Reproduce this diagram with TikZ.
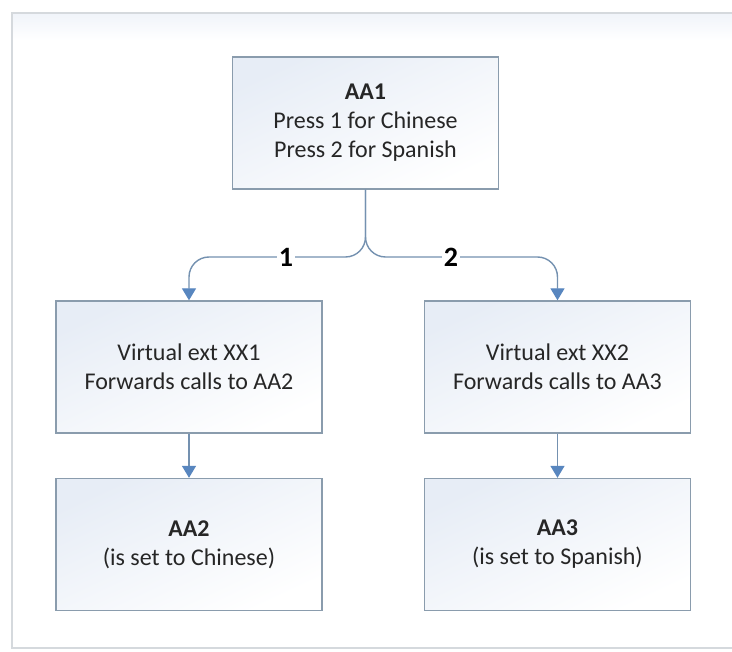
\documentclass[tikz,border=0pt]{standalone}
\usepackage{fontspec}
\setmainfont{Carlito}
\usetikzlibrary{arrows.meta}
\definecolor{boxline}{HTML}{8A9CAD}
\definecolor{boxtop}{HTML}{E7EDF6}
\definecolor{conn}{HTML}{7491B0}
\definecolor{tipc}{HTML}{5886BF}
\definecolor{txt}{HTML}{262626}
\definecolor{frame}{HTML}{D5D9DD}
\tikzset{
  box/.style={draw=boxline, line width=1.4pt, minimum width=266pt, minimum height=132pt,
    align=center, text=txt, font=\fontsize{24}{29}\selectfont,
    top color=boxtop, bottom color=white, shading angle=25},
  link/.style={draw=conn, line width=1.4pt, -{Triangle[width=14pt,length=12pt,color=tipc]}},
  lbl/.style={fill=white, text=black, font=\bfseries\fontsize{28}{30}\selectfont, inner sep=2pt}
}
\begin{document}
\begin{tikzpicture}[x=1pt,y=-1pt]
\useasboundingbox (0,0) rectangle (732,652);
\fill[white] (0,0) rectangle (732,652);
\begin{scope}
\clip (0,0) rectangle (732,652);
\shade[top color=boxtop!60, bottom color=white] (13,14) rectangle (740,40);
\draw[frame, line width=1.6pt] (12,13) rectangle (745,648);
\end{scope}
\node[box] (aa1) at (365.5,123) {\textbf{AA1}\\Press 1 for Chinese\\Press 2 for Spanish};
\node[box] (v1) at (189,367) {Virtual ext XX1\\Forwards calls to AA2};
\node[box] (v2) at (557.5,367) {Virtual ext XX2\\Forwards calls to AA3};
\node[box] (aa2) at (189,544.5) {\textbf{AA2}\\(is set to Chinese)};
\node[box] (aa3) at (557.5,544.5) {\textbf{AA3}\\(is set to Spanish)};
\coordinate (j) at (365.5,257);
\draw[link, rounded corners=20pt] (aa1.south) -- (j) -- (v1.north |- j) -- (v1.north);
\draw[link, rounded corners=20pt] (aa1.south) -- (j) -- (v2.north |- j) -- (v2.north);
\node[lbl] (l1) at (286,257) {1};
\node[lbl] (l2) at (451,257) {2};
\draw[link] (v1.south) -- (aa2.north);
\draw[link] (v2.south) -- (aa3.north);
\end{tikzpicture}
\end{document}
